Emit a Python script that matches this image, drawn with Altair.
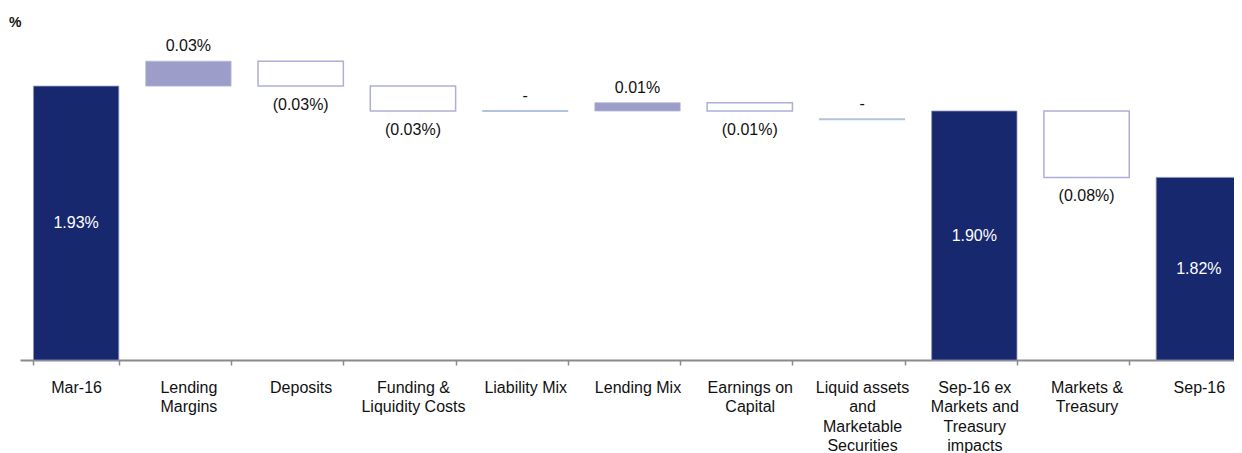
import altair as alt
import pandas as pd

categories = ["Mar-16", "Lending|Margins", "Deposits", "Funding &|Liquidity Costs",
              "Liability Mix", "Lending Mix", "Earnings on|Capital",
              "Liquid assets|and|Marketable|Securities",
              "Sep-16 ex|Markets and|Treasury|impacts", "Markets &|Treasury", "Sep-16"]
kinds = ["total", "up", "down", "down", "zero", "up", "down", "zero", "total", "down", "total"]
starts = [1.60, 1.93, 1.96, 1.93, 1.90, 1.90, 1.91, 1.89, 1.60, 1.90, 1.60]
ends = [1.93, 1.96, 1.93, 1.90, 1.90, 1.91, 1.90, 1.89, 1.90, 1.82, 1.82]
labels = ["1.93%", "0.03%", "(0.03%)", "(0.03%)", "-", "0.01%", "(0.01%)", "-",
          "1.90%", "(0.08%)", "1.82%"]

df = pd.DataFrame({"cat": categories, "kind": kinds, "start": starts,
                   "end": ends, "label": labels})
df["mid"] = (df["start"] + df["end"]) / 2

FONT = "Liberation Sans"
NAVY = "#17286E"
LAV = "#9C9DC9"
LINE = "#8EAAD6"
FS = 16

xenc = alt.X("cat:N", sort=categories, title=None,
             scale=alt.Scale(domain=categories, range=[12, 1247],
                             paddingInner=0.24, paddingOuter=0.12),
             axis=alt.Axis(labelExpr="split(datum.label, '|')", labelAngle=0,
                           labelFontSize=FS, labelColor="#111111", labelFont=FONT,
                           labelLineHeight=19.5, labelPadding=14, labelBaseline="top",
                           labelLimit=0, tickBand="extent", tickSize=5,
                           tickColor="#8a8a8a", tickWidth=1.5, domainColor="#8a8a8a",
                           domainWidth=2, grid=False))
yscale = alt.Scale(domain=[1.6, 2.0], nice=False, zero=False)
ybar = alt.Y("start:Q", scale=yscale, axis=None)

base = alt.Chart(df)

totals = base.transform_filter("datum.kind == 'total'").mark_bar(
    color=NAVY, stroke="#8F93C4", strokeWidth=0.8
).encode(x=xenc, y=ybar, y2="end:Q")

ups = base.transform_filter("datum.kind == 'up'").mark_bar(
    color=LAV, stroke="#B5B6DB", strokeWidth=0.8
).encode(x=xenc, y=ybar, y2="end:Q")

downs = base.transform_filter("datum.kind == 'down'").mark_bar(
    fill="white", stroke="#AEAED8", strokeWidth=1.5
).encode(x=xenc, y=ybar, y2="end:Q")

zeros = base.transform_filter("datum.kind == 'zero'").mark_tick(
    color=LINE, thickness=2, size=86
).encode(x=xenc, y=alt.Y("end:Q", scale=yscale, axis=None))

tot_text = base.transform_filter("datum.kind == 'total'").mark_text(
    color="white", fontSize=FS, font=FONT, baseline="middle"
).encode(x=xenc, y=alt.Y("mid:Q", scale=yscale, axis=None), text="label:N")

up_text = base.transform_filter("datum.kind == 'up' || datum.kind == 'zero'").mark_text(
    color="#111111", fontSize=FS, font=FONT, baseline="bottom", dy=-7
).encode(x=xenc, y=alt.Y("end:Q", scale=yscale, axis=None), text="label:N")

down_text = base.transform_filter("datum.kind == 'down'").mark_text(
    color="#111111", fontSize=FS, font=FONT, baseline="top", dy=11
).encode(x=xenc, y=alt.Y("end:Q", scale=yscale, axis=None), text="label:N")

chart = alt.layer(totals, ups, downs, zeros, tot_text, up_text, down_text).properties(
    width=1226, height=332,
    autosize=alt.AutoSizeParams(type="none"),
    padding={"left": 0, "right": 0, "top": 20, "bottom": 100},
    title=alt.TitleParams("%", anchor="start", fontSize=14, fontWeight="bold",
                          font=FONT, color="#111111", offset=3, dx=1, dy=5),
).configure(background="white").configure_view(stroke=None)

chart.save("out.html", embed_options={"renderer": "svg", "actions": False})
